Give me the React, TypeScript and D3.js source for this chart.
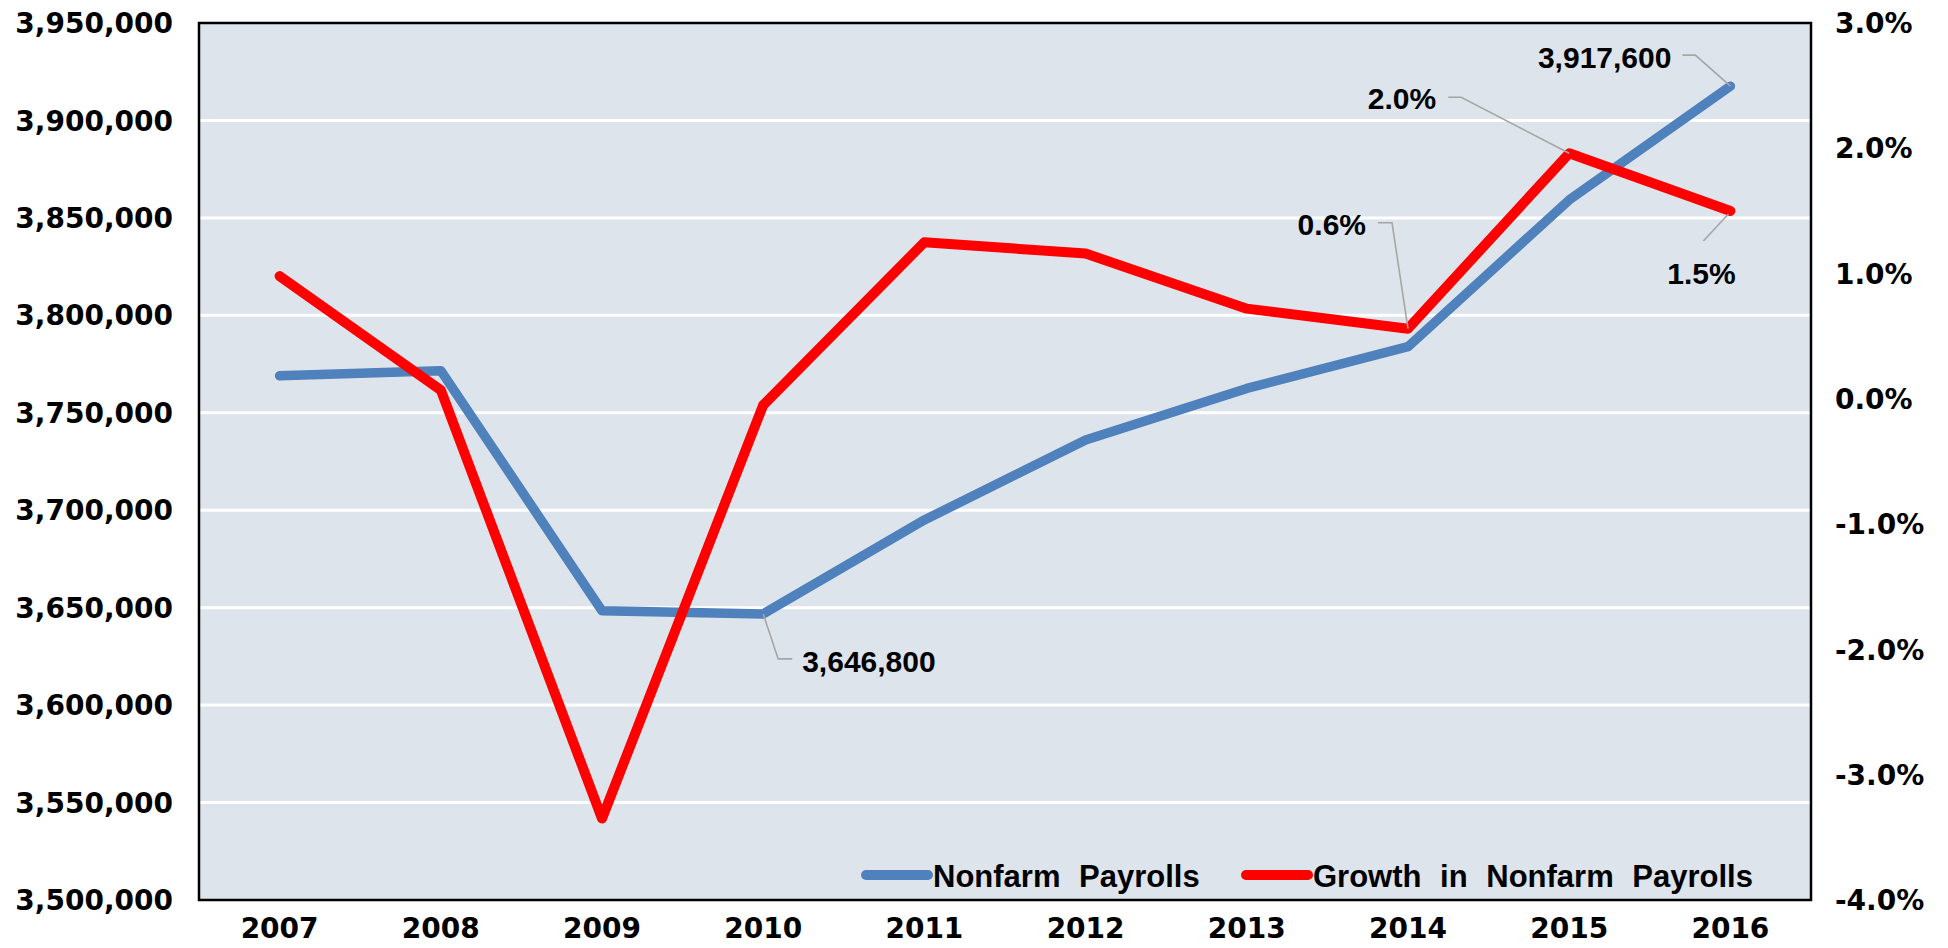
import React from "react";
import * as d3 from "d3";

const years = ["2007", "2008", "2009", "2010", "2011", "2012", "2013", "2014", "2015", "2016"];
const payrolls = [3769000, 3771600, 3648400, 3646800, 3695000, 3736000, 3762500, 3783900, 3859200, 3917600];
const growth = [0.98, 0.07, -3.35, -0.05, 1.25, 1.16, 0.72, 0.56, 1.96, 1.5];
const leftTicks = [3500000, 3550000, 3600000, 3650000, 3700000, 3750000, 3800000, 3850000, 3900000, 3950000];
const rightTicks = [-4, -3, -2, -1, 0, 1, 2, 3];
const seriesNames = ["Nonfarm Payrolls", "Growth in Nonfarm Payrolls"];

const W = 1948;
const H = 948;
const L = 199, R = 1811, T = 23, B = 900;
const BLUE = "#4f81bd";
const RED = "#ff0000";
const BG = "#dee4eb";
const LEADER = "#a6a6a6";
const AXIS_FONT = "'DejaVu Sans', sans-serif";
const LABEL_FONT = "'Liberation Sans', Arial, sans-serif";

export default function App() {
  const xb = d3.scaleBand<string>().domain(years).range([L, R]);
  const x = (y: string) => (xb(y) as number) + xb.bandwidth() / 2;
  const yL = d3.scaleLinear().domain([3500000, 3950000]).range([B, T]);
  const yR = d3.scaleLinear().domain([-4, 3]).range([B, T]);
  const fmt = d3.format(",");

  const blueLine = d3
    .line<number>()
    .x((_, i) => x(years[i]))
    .y((d) => yL(d))(payrolls) as string;
  const redLine = d3
    .line<number>()
    .x((_, i) => x(years[i]))
    .y((d) => yR(d))(growth) as string;

  // annotation anchors
  const p2010 = [x("2010"), yL(payrolls[3])];
  const p2016b = [x("2016"), yL(payrolls[9])];
  const p2014r = [x("2014"), yR(growth[7])];
  const p2015r = [x("2015"), yR(growth[8])];
  const p2016r = [x("2016"), yR(growth[9])];

  const labelStyle = { fontFamily: LABEL_FONT, fontWeight: 700, fontSize: 30, fill: "#000" } as const;

  return (
    <svg width={W} height={H} style={{ position: "absolute", left: 0, top: 0 }}>
      <rect x={0} y={0} width={W} height={H} fill="#fff" />
      <rect x={L} y={T} width={R - L} height={B - T} fill={BG} />
      {leftTicks.slice(1, -1).map((t) => (
        <line key={t} x1={L} x2={R} y1={yL(t)} y2={yL(t)} stroke="#fff" strokeWidth={3} />
      ))}
      {/* series */}
      <path d={blueLine} fill="none" stroke={BLUE} strokeWidth={9.5} strokeLinecap="round" strokeLinejoin="round" />
      <path d={redLine} fill="none" stroke={RED} strokeWidth={10} strokeLinecap="round" strokeLinejoin="round" />

      {/* frame */}
      <rect x={L} y={T} width={R - L} height={B - T} fill="none" stroke="#000" strokeWidth={2.5} />

      {/* left axis labels */}
      {leftTicks.map((t) => (
        <text key={t} x={173} y={yL(t)} dy="0.36em" textAnchor="end" fontFamily={AXIS_FONT} fontWeight={700} fontSize={28} fill="#000">
          {fmt(t)}
        </text>
      ))}
      {/* right axis labels */}
      {rightTicks.map((t) => (
        <text key={t} x={1835} y={yR(t)} dy="0.36em" textAnchor="start" fontFamily={AXIS_FONT} fontWeight={700} fontSize={28} fill="#000">
          {t.toFixed(1) + "%"}
        </text>
      ))}
      {/* x labels */}
      {years.map((y) => (
        <text key={y} x={x(y)} y={938} textAnchor="middle" fontFamily={AXIS_FONT} fontWeight={700} fontSize={28} fill="#000">
          {y}
        </text>
      ))}

      {/* annotations */}
      <polyline
        points={`${p2010[0]},${p2010[1]} ${p2010[0] + 15},${p2010[1] + 45} ${p2010[0] + 29},${p2010[1] + 45}`}
        fill="none" stroke={LEADER} strokeWidth={1.6}
      />
      <text x={p2010[0] + 39} y={p2010[1] + 58} {...labelStyle}>{fmt(payrolls[3])}</text>

      <polyline
        points={`${p2016b[0]},${p2016b[1]} ${p2016b[0] - 35},${p2016b[1] - 31} ${p2016b[0] - 48},${p2016b[1] - 31}`}
        fill="none" stroke={LEADER} strokeWidth={1.6}
      />
      <text x={p2016b[0] - 59} y={p2016b[1] - 18} textAnchor="end" {...labelStyle}>{fmt(payrolls[9])}</text>

      <polyline
        points={`${p2015r[0]},${p2015r[1]} ${p2015r[0] - 108},${p2015r[1] - 56} ${p2015r[0] - 121},${p2015r[1] - 56}`}
        fill="none" stroke={LEADER} strokeWidth={1.6}
      />
      <text x={p2015r[0] - 133} y={p2015r[1] - 44} textAnchor="end" {...labelStyle}>{growth[8].toFixed(1) + "%"}</text>

      <polyline
        points={`${p2014r[0]},${p2014r[1]} ${p2014r[0] - 16},${p2014r[1] - 106} ${p2014r[0] - 30},${p2014r[1] - 106}`}
        fill="none" stroke={LEADER} strokeWidth={1.6}
      />
      <text x={p2014r[0] - 42} y={p2014r[1] - 94} textAnchor="end" {...labelStyle}>{"0.6%"}</text>

      <polyline
        points={`${p2016r[0] - 2},${p2016r[1] + 3} ${p2016r[0] - 27},${p2016r[1] + 30}`}
        fill="none" stroke={LEADER} strokeWidth={1.6}
      />
      <text x={p2016r[0] - 29} y={p2016r[1] + 73} textAnchor="middle" {...labelStyle}>{growth[9].toFixed(1) + "%"}</text>

      {/* legend */}
      <line x1={866} x2={928} y1={875} y2={875} stroke={BLUE} strokeWidth={10} strokeLinecap="round" />
      <text x={933} y={887} fontFamily={LABEL_FONT} fontWeight={700} fontSize={31} wordSpacing={10} fill="#000">
        {seriesNames[0]}
      </text>
      <line x1={1246} x2={1308} y1={875} y2={875} stroke={RED} strokeWidth={10} strokeLinecap="round" />
      <text x={1313} y={887} fontFamily={LABEL_FONT} fontWeight={700} fontSize={31} wordSpacing={10} fill="#000">
        {seriesNames[1]}
      </text>
    </svg>
  );
}
